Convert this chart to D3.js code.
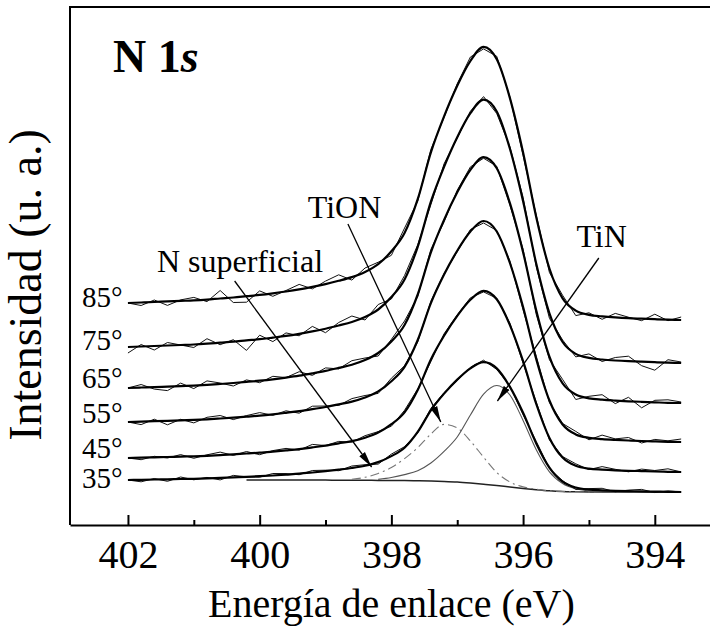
<!DOCTYPE html>
<html>
<head>
<meta charset="utf-8">
<script src="https://cdn.jsdelivr.net/npm/d3@7"></script>
<style>
  body { margin: 0; background: #fff; }
  svg { display: block; }
</style>
</head>
<body>
<svg id="chart" width="710" height="626"></svg>
<script>
// binding energy grid (eV), shared by every spectrum
const energy = [402.0, 401.8, 401.6, 401.4, 401.2, 401.0, 400.8, 400.6, 400.4, 400.2,
    400.0, 399.8, 399.6, 399.4, 399.2, 399.0, 398.8, 398.6, 398.4, 398.2,
    398.0, 397.8, 397.6, 397.4, 397.2, 397.0, 396.8, 396.6, 396.4, 396.2,
    396.0, 395.8, 395.6, 395.4, 395.2, 395.0, 394.8, 394.6, 394.4, 394.2,
    394.0, 393.8, 393.6];

const angles = ["85°", "75°", "65°", "55°", "45°", "35°"];

// fitted envelopes (a. u.)
const fit85 = [222.0, 222.5, 223.0, 223.6, 224.1, 224.6, 225.4, 226.5, 227.5, 228.8, 230.1, 231.7, 233.5, 235.6, 238.1, 240.9, 244.2, 247.9, 253.0, 260.8, 273.7, 291.9, 325.8, 372.6, 408.6, 439.2, 464.0, 478.1, 465.7, 426.9, 372.5, 307.8, 256.5, 226.7, 214.4, 210.2, 208.7, 207.6, 206.8, 206.3, 205.8, 205.3, 205.0];
const fit75 = [178.0, 178.5, 179.0, 179.5, 180.0, 180.5, 181.3, 182.3, 183.3, 184.6, 185.8, 187.4, 189.1, 191.2, 193.6, 196.3, 199.5, 203.0, 208.0, 215.5, 228.0, 245.5, 278.2, 323.4, 358.2, 387.8, 411.8, 425.4, 413.5, 376.2, 323.7, 261.2, 211.7, 183.0, 171.1, 167.1, 165.5, 164.5, 163.8, 163.3, 162.8, 162.3, 162.0];
const fit65 = [137.0, 137.5, 137.9, 138.4, 138.9, 139.4, 140.1, 141.0, 142.0, 143.1, 144.3, 145.7, 147.4, 149.3, 151.6, 154.1, 157.1, 160.3, 165.0, 172.0, 183.6, 200.0, 230.5, 272.6, 305.1, 332.7, 355.1, 367.8, 356.7, 321.8, 272.8, 214.5, 168.3, 141.6, 130.5, 126.7, 125.3, 124.4, 123.7, 123.2, 122.7, 122.2, 122.0];
const fit55 = [103.0, 103.4, 103.8, 104.2, 104.7, 105.1, 105.7, 106.5, 107.4, 108.4, 109.4, 110.7, 112.2, 113.8, 115.8, 118.0, 120.6, 123.4, 127.5, 133.6, 143.8, 158.2, 185.0, 221.9, 250.4, 274.3, 293.5, 304.0, 293.5, 262.0, 218.0, 165.8, 124.5, 100.5, 90.6, 87.2, 85.9, 85.1, 84.5, 84.0, 83.6, 83.2, 83.0];
const fit45 = [67.0, 67.3, 67.7, 68.0, 68.4, 68.7, 69.2, 69.9, 70.6, 71.5, 72.3, 73.4, 74.6, 75.9, 77.6, 79.4, 81.6, 83.9, 87.3, 92.4, 100.8, 112.7, 135.0, 165.6, 189.2, 209.1, 225.2, 234.1, 225.7, 199.9, 163.8, 121.0, 87.1, 67.4, 59.2, 56.4, 55.4, 54.7, 54.2, 53.9, 53.5, 53.2, 53.0];
const fit35 = [45.0, 45.2, 45.5, 45.7, 46.0, 46.2, 46.6, 47.1, 47.6, 48.2, 48.8, 49.5, 50.4, 51.3, 52.5, 53.8, 55.3, 57.0, 59.3, 62.9, 68.9, 77.3, 93.1, 114.7, 131.4, 145.4, 156.7, 162.8, 156.6, 138.1, 112.2, 81.6, 57.4, 43.3, 37.5, 35.4, 34.7, 34.2, 33.9, 33.6, 33.4, 33.1, 33.0];

// measured (noisy) spectra
const raw85 = [222, 219.5, 225, 219.6, 225.1, 227.6, 223.4, 234.5, 222.5, 222.8, 234.1, 228.7, 234.5, 240.6, 236.1, 243.9, 250.2, 244.9, 257, 262.8, 269.7, 296.9, 323.8, 375.6, 407.6, 441.2, 468, 476.1, 468.7, 427.9, 369.5, 309.8, 252.5, 229.7, 209.4, 212.2, 205.7, 211.6, 207.8, 204.3, 210.8, 204.3, 208];
const raw75 = [172, 180.5, 175, 182.5, 180, 177.5, 186.3, 180.3, 185.3, 174.6, 189.8, 183.4, 192.1, 189.2, 198.6, 192.3, 202.5, 209, 205, 220.5, 226, 249.5, 280.2, 320.4, 361.2, 386.8, 413.8, 428.4, 411.5, 378.2, 327.7, 258.2, 206.7, 185, 168.1, 171.1, 163.5, 167.5, 168.8, 159.3, 154.8, 165.3, 163];
const raw65 = [137, 140.5, 135.9, 134.4, 141.9, 136.4, 144.1, 142, 139, 145.1, 142.3, 148.7, 147.4, 153.3, 149.6, 157.1, 156.1, 164.3, 167, 169, 185.6, 204, 228.5, 275.6, 303.1, 334.7, 358.1, 366.8, 358.7, 319.8, 275.8, 210.5, 165.3, 145.6, 125.5, 128.7, 130.3, 121.4, 127.7, 117.2, 124.7, 125.2, 123];
const raw55 = [103, 100.4, 105.8, 100.2, 105.7, 102.1, 107.7, 109.5, 105.4, 109.4, 112.4, 109.7, 114.2, 111.8, 118.8, 119, 119.6, 126.4, 129.5, 131.6, 146.8, 159.2, 183, 223.9, 251.4, 273.3, 295.5, 302, 294.5, 264, 215, 168.8, 122.5, 101.5, 93.6, 85.2, 89.9, 86.1, 87.5, 82, 85.6, 84.2, 86];
const raw45 = [67, 65.3, 68.7, 67, 70.4, 66.7, 70.2, 72.9, 69.6, 73.5, 70.3, 74.4, 76.6, 74.9, 80.6, 79.4, 83.6, 82.9, 89.3, 93.4, 98.8, 114.7, 136, 163.6, 191.2, 210.1, 227.2, 233.1, 226.7, 201.9, 161.8, 123, 85.1, 68.4, 61.2, 55.4, 58.4, 55.7, 53.2, 55.9, 54.5, 56.2, 53];
const raw35 = [45, 43.2, 46.5, 43.7, 48, 45.2, 47.6, 45.1, 49.6, 48.2, 47.8, 51.5, 51.4, 50.3, 54.5, 54.8, 54.3, 59, 60.3, 60.9, 70.9, 78.3, 92.1, 116.7, 132.4, 144.4, 157.7, 164.8, 155.6, 139.1, 110.2, 83.6, 56.4, 44.3, 35.5, 36.4, 36.7, 33.2, 34.9, 35.6, 32.4, 34.1, 33];

// 35° deconvolution: background from 400.2 eV, TiON from 398.6 eV, TiN from 398.2 eV
const bg35 = [45, 45, 45, 45, 45, 44.9, 44.9, 44.8, 44.8, 44.7, 44.6, 44.5, 44.4, 44.3, 44.0, 43.6, 43.0, 42.0, 40.8, 39.5, 38.0, 36.6, 35.3, 34.2, 33.5, 33.2, 33, 33, 33, 33, 33, 33, 33, 33];
const tion35 = [45.8, 47.7, 51.6, 57.5, 66.4, 77.3, 91.0, 100.6, 97.0, 84.0, 67.8, 52.5, 43.0, 38.1, 35.8, 34.2, 33.5, 33.2, 33.0, 33.0];
const tin35 = [45.6, 47.5, 50.4, 54.3, 62.0, 73.6, 88.0, 110.0, 130.8, 139.5, 130.0, 104.6, 75.3, 53.2, 41.5, 36.2, 34.0, 33.0];

const majorTicks = [402, 400, 398, 396, 394];
const minorTicks = [401, 399, 397, 395];

// annotations: label anchor and arrow from/to, in (eV, a. u.)
const notes = [
    {text: "N superficial", at: [401.56, 253], from: [400.38, 244], to: [398.30, 58]},
    {text: "TiON", at: [399.27, 307], from: [398.66, 301], to: [397.25, 103]},
    {text: "TiN", at: [395.19, 278], from: [394.85, 267], to: [396.39, 124]}
];

const fits = [fit85, fit75, fit65, fit55, fit45, fit35];
const raws = [raw85, raw75, raw65, raw55, raw45, raw35];

const width = 710;
const height = 626;
const serif = '"Liberation Serif", "Times New Roman", serif';
// small vertical nudges (px) for the angle labels
const angleNudge = [4, 3, 0, 1, 0, 8];

const svg = d3.select("#chart");

svg.append("rect")
    .attr("width", width)
    .attr("height", height)
    .attr("fill", "#fff");

// reversed energy axis
const x = d3.scaleLinear()
    .domain([402.88, 393.01])
    .range([70, 720]);

const y = d3.scaleLinear()
    .domain([0, 518])
    .range([525, 7]);

const [x0, x1] = x.range();
const [y0, y1] = y.range();

const lineOn = (xs) => d3.line()
    .x((d, i) => x(xs[i]))
    .y(d => y(d));

const plot = svg.append("g").attr("fill", "none");

// components of the 35° spectrum
plot.append("path")
    .datum(bg35)
    .attr("d", lineOn(energy.slice(9)).curve(d3.curveMonotoneX))
    .attr("stroke", "#222")
    .attr("stroke-width", 1.5);

plot.append("path")
    .datum(tion35)
    .attr("d", lineOn(energy.slice(17)).curve(d3.curveMonotoneX))
    .attr("stroke", "#777")
    .attr("stroke-width", 1.1)
    .attr("stroke-dasharray", "9,4,2,4");

plot.append("path")
    .datum(tin35)
    .attr("d", lineOn(energy.slice(19)).curve(d3.curveMonotoneX))
    .attr("stroke", "#555")
    .attr("stroke-width", 1.1);

//raw data, thin
plot.selectAll(".raw")
    .data(raws).join("path")
    .attr("class", "raw")
    .attr("d", lineOn(energy))
    .attr("stroke", "#111")
    .attr("stroke-width", 1);

//fitted envelope, thick
plot.selectAll(".fit")
    .data(fits).join("path")
    .attr("class", "fit")
    .attr("d", lineOn(energy).curve(d3.curveMonotoneX))
    .attr("stroke", "#000")
    .attr("stroke-width", 2.2);

// frame (left, top, bottom)
svg.append("path")
    .attr("d", `M${x1},${y1} H${x0} V${y0}`)
    .attr("fill", "none")
    .attr("stroke", "#000")
    .attr("stroke-width", 2);

const xAxis = svg.append("g")
    .attr("transform", `translate(0,${y0})`)
    .call(d3.axisBottom(x)
        .tickValues(majorTicks)
        .tickSize(-10)
        .tickSizeOuter(0)
        .tickPadding(15)
        .tickFormat(d3.format("d")))
    .attr("font-size", 40);

xAxis.select(".domain").attr("stroke-width", 2);
xAxis.selectAll(".tick line").attr("stroke-width", 2);
xAxis.selectAll(".tick text").attr("fill", "#000");

svg.append("g")
    .attr("transform", `translate(0,${y0})`)
    .call(d3.axisBottom(x)
        .tickValues(minorTicks)
        .tickSize(-5)
        .tickSizeOuter(0)
        .tickFormat(""))
    .call(g => g.select(".domain").remove())
    .selectAll(".tick line").attr("stroke-width", 2);

// axis titles
svg.append("text")
    .text("Energía de enlace (eV)")
    .attr("x", x(398))
    .attr("y", 617)
    .attr("text-anchor", "middle")
    .attr("font-size", 40);

svg.append("text")
    .text("Intensidad (u. a.)")
    .attr("transform", `translate(41,${(y0 + y1) / 2 + 19}) rotate(-90)`)
    .attr("text-anchor", "middle")
    .attr("font-size", 46);

// panel title
const title = svg.append("text")
    .attr("x", 113)
    .attr("y", 72)
    .attr("font-size", 46)
    .attr("font-weight", "bold");
title.append("tspan").text("N 1");
title.append("tspan").text("s").attr("font-style", "italic");

// take-off angle labels at the start of each spectrum
svg.selectAll(".angle")
    .data(angles).join("text")
    .attr("class", "angle")
    .attr("x", x0 + 12)
    .attr("y", (d, i) => y(fits[i][0]) + angleNudge[i])
    .attr("font-size", 29)
    .text(d => d);

// arrow head marker
svg.append("defs").append("marker")
    .attr("id", "head")
    .attr("markerUnits", "userSpaceOnUse")
    .attr("markerWidth", 17)
    .attr("markerHeight", 8)
    .attr("refX", 16)
    .attr("refY", 4)
    .attr("orient", "auto")
  .append("path")
    .attr("d", "M0,0.5 L16,4 L0,7.5 Z")
    .attr("fill", "#000");

svg.selectAll(".arrow")
    .data(notes).join("line")
    .attr("class", "arrow")
    .attr("x1", d => x(d.from[0]))
    .attr("y1", d => y(d.from[1]))
    .attr("x2", d => x(d.to[0]))
    .attr("y2", d => y(d.to[1]))
    .attr("stroke", "#000")
    .attr("stroke-width", 1.3)
    .attr("marker-end", "url(#head)");

svg.selectAll(".note")
    .data(notes).join("text")
    .attr("class", "note")
    .attr("x", d => x(d.at[0]))
    .attr("y", d => y(d.at[1]))
    .attr("font-size", 32)
    .text(d => d.text);

// serif face on every text, set on the element itself
svg.selectAll("text, tspan").style("font-family", serif);
</script>
</body>
</html>
